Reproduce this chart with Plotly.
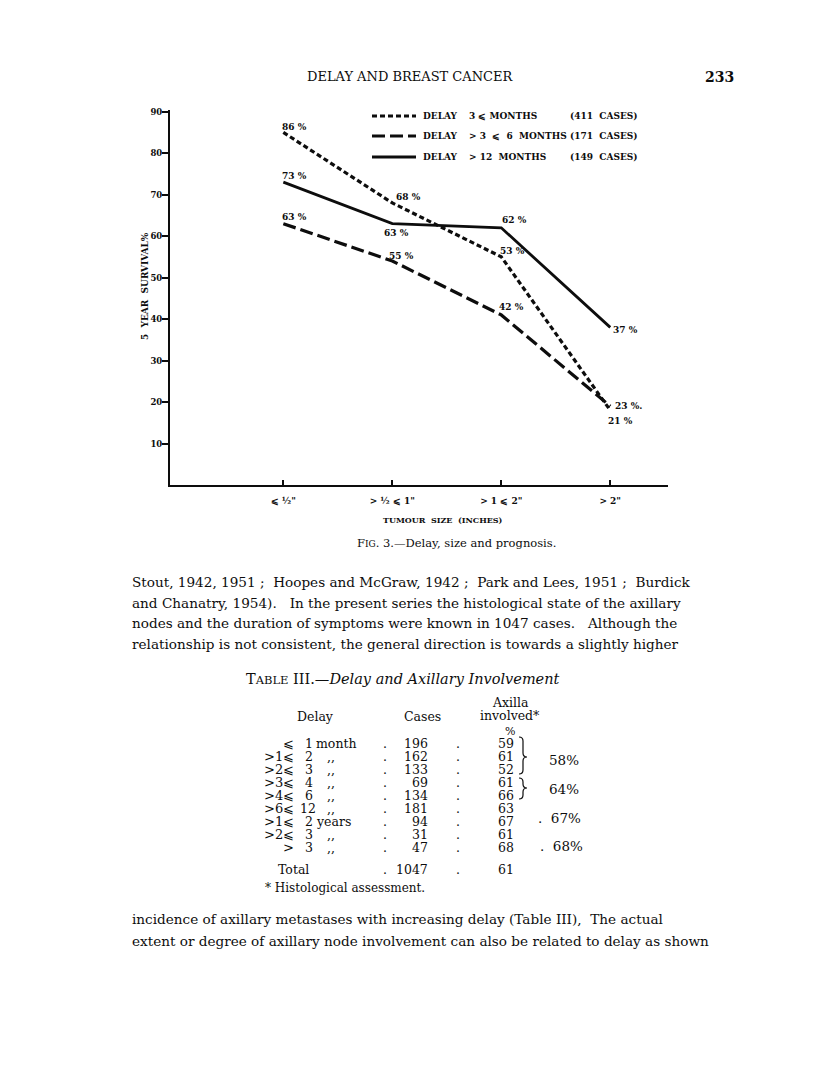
import plotly.graph_objects as go

# ---- chart data -------------------------------------------------------------
size_labels = ["⩽ ½\"", "> ½ ⩽ 1\"", "> 1 ⩽ 2\"", "> 2\""]
y_ticks = [10, 20, 30, 40, 50, 60, 70, 80, 90]

delay_short = [85, 68, 55, 18]          # delay <= 3 months (dotted)
delay_mid = [63, 54, 41, 19]            # delay > 3 <= 6 months (dashed)
delay_long = [73, 63, 62, 38]           # delay > 12 months (solid)

short_text = ["86 %", "68 %", "53 %", "21 %"]
mid_text = ["63 %", "55 %", "42 %", "23 %."]
long_text = ["73 %", "63 %", "62 %", "37 %"]

legend_desc = ["3 ⩽ MONTHS", "> 3  ⩽  6  MONTHS", "> 12  MONTHS"]
legend_cases = ["(411  CASES)", "(171  CASES)", "(149  CASES)"]

# ---- table data -------------------------------------------------------------
delay_prefix = ["⩽", ">1⩽", ">2⩽", ">3⩽", ">4⩽", ">6⩽", ">1⩽", ">2⩽", ">"]
delay_num = ["1", "2", "3", "4", "6", "12", "2", "3", "3"]
delay_unit = ["month", ",,", ",,", ",,", ",,", ",,", "years", ",,", ",,"]
cases = [196, 162, 133, 69, 134, 181, 94, 31, 47]
axilla_pct = [59, 61, 52, 61, 66, 63, 67, 61, 68]
total_cases = 1047
total_pct = 61

body_top = [
    "Stout, 1942, 1951 ;  Hoopes and McGraw, 1942 ;  Park and Lees, 1951 ;  Burdick",
    "and Chanatry, 1954).   In the present series the histological state of the axillary",
    "nodes and the duration of symptoms were known in 1047 cases.   Although the",
    "relationship is not consistent, the general direction is towards a slightly higher",
]
body_bottom = [
    "incidence of axillary metastases with increasing delay (Table III),  The actual",
    "extent or degree of axillary node involvement can also be related to delay as shown",
]

# ---- page geometry (page pixels; the html body adds an 8px margin) ---------
OFF = 8
W, H = 816 - 2 * OFF, 1081 - 2 * OFF
L, R, T, B = 170, 668, 110, 485


def px(x):
    return (x - L) / (R - L)


def py(y):
    return (B - y) / (B - T)


CH = "DejaVu Serif"
INK = "#0d0d0d"
DOT = "5px,3px"
DASH = "13px,5px"

fig = go.Figure()

fig.add_trace(go.Scatter(x=[0, 1, 2, 3], y=delay_short, mode="lines",
                         line=dict(color=INK, width=3.2, dash=DOT)))
fig.add_trace(go.Scatter(x=[0, 1, 2, 3], y=delay_mid, mode="lines",
                         line=dict(color=INK, width=3.2, dash=DASH)))
fig.add_trace(go.Scatter(x=[0, 1, 2, 3], y=delay_long, mode="lines",
                         line=dict(color=INK, width=2.8)))

ann = []

# point labels
shifts_short = [(11, 5), (16, 6), (11, 6), (10, -11)]
shifts_mid = [(11, 7), (9, 5), (10, 8), (18, 0)]
shifts_long = [(11, 6), (4, -9), (13, 8), (15, -3)]
for vals, texts, shifts in [(delay_short, short_text, shifts_short),
                            (delay_mid, mid_text, shifts_mid),
                            (delay_long, long_text, shifts_long)]:
    for i, (v, t, s) in enumerate(zip(vals, texts, shifts)):
        ann.append(dict(x=i, y=v, text="<b>" + t + "</b>", showarrow=False,
                        xshift=s[0], yshift=s[1],
                        font=dict(family=CH, size=9, color=INK)))

# legend (drawn by hand, like the original)
legend_dash = [DOT, DASH, "solid"]
legend_y = [116, 136, 157]
shapes = []
for d, ly, desc, cs in zip(legend_dash, legend_y, legend_desc, legend_cases):
    shapes.append(dict(type="line", xref="paper", yref="paper",
                       x0=px(372), x1=px(416), y0=py(ly), y1=py(ly),
                       line=dict(color=INK, width=3, dash=d)))
    ann.append(dict(xref="paper", yref="paper", x=px(421), y=py(ly), text="<b>DELAY</b>",
                    xanchor="left", showarrow=False, font=dict(family=CH, size=9, color=INK)))
    ann.append(dict(xref="paper", yref="paper", x=px(467), y=py(ly), text="<b>" + desc + "</b>",
                    xanchor="left", showarrow=False, font=dict(family=CH, size=9, color=INK)))
    ann.append(dict(xref="paper", yref="paper", x=px(640), y=py(ly), text="<b>" + cs + "</b>",
                    xanchor="right", showarrow=False, font=dict(family=CH, size=9, color=INK)))

# axis titles and caption
ann.append(dict(xref="paper", yref="paper", x=px(145), y=py(286), text="<b>5  YEAR  SURVIVAL%</b>",
                textangle=-90, showarrow=False, font=dict(family=CH, size=9, color=INK)))
ann.append(dict(xref="paper", yref="paper", x=px(443), y=py(520), text="<b>TUMOUR  SIZE  (INCHES)</b>",
                showarrow=False, font=dict(family=CH, size=8, color=INK)))
ann.append(dict(xref="paper", yref="paper", x=px(456), y=py(543),
                text="F<span style='font-size:9px'>IG</span>. 3.—Delay, size and prognosis.",
                showarrow=False, font=dict(family=CH, size=11.5, color=INK)))

# running header
ann.append(dict(xref="paper", yref="paper", x=px(410), y=py(77), text="DELAY AND BREAST CANCER",
                showarrow=False, font=dict(family=CH, size=13, color=INK)))
ann.append(dict(xref="paper", yref="paper", x=px(736), y=py(77), text="<b>233</b>", xanchor="right",
                showarrow=False, font=dict(family=CH, size=14, color=INK)))

# body text
BODY = 13.6
for i, line in enumerate(body_top):
    ann.append(dict(xref="paper", yref="paper", x=px(130), y=py(582 + 20.7 * i), text=line,
                    xanchor="left", showarrow=False, font=dict(family=CH, size=BODY, color=INK)))
for i, line in enumerate(body_bottom):
    ann.append(dict(xref="paper", yref="paper", x=px(130), y=py(919 + 21.5 * i), text=line,
                    xanchor="left", showarrow=False, font=dict(family=CH, size=BODY, color=INK)))

# table
TF = 12.5
ann.append(dict(xref="paper", yref="paper", x=px(403), y=py(679),
                text="T<span style='font-size:11.5px'>ABLE</span> III.—<i>Delay and Axillary Involvement</i>",
                showarrow=False, font=dict(family=CH, size=14.5, color=INK)))


def cell(x, y, text, anchor="left", size=TF):
    ann.append(dict(xref="paper", yref="paper", x=px(x), y=py(y), text=text, xanchor=anchor,
                    showarrow=False, font=dict(family=CH, size=size, color=INK)))


cell(315, 716, "Delay", "center")
cell(422, 716, "Cases", "center")
cell(510, 702, "Axilla", "center")
cell(510, 715, "involved*", "center")
cell(510, 731, "%", "center", 11)

row_y = [743 + 13.1 * i for i in range(len(cases))]
for ry, pre, num, unit, c, a in zip(row_y, delay_prefix, delay_num, delay_unit, cases, axilla_pct):
    cell(296, ry, pre, "right", 13)
    cell(298 if len(num) > 1 else 303, ry, num)
    if unit == ",,":
        cell(331, ry, unit, "center")
    else:
        cell(314, ry, unit)
    cell(385, ry, ".", "center")
    cell(430, ry, str(c), "right")
    cell(458, ry, ".", "center")
    cell(516, ry, str(a), "right")

cell(276, 869, "Total")
cell(385, 869, ".", "center")
cell(430, 869, str(total_cases), "right")
cell(458, 869, ".", "center")
cell(516, 869, str(total_pct), "right")
cell(263, 888, "* Histological assessment.", size=12)

cell(581, 760, "58%", "right", 13.5)
cell(581, 789, "64%", "right", 13.5)
cell(583, 818, ".  67%", "right", 13.5)
cell(585, 846, ".  68%", "right", 13.5)


def brace(x, top, bot, tip, w=8):
    m = x + w * 0.5
    r = 4
    xs = lambda v: px(v)
    ys = lambda v: py(v)
    path = (f"M {xs(x)},{ys(top)} Q {xs(m)},{ys(top)} {xs(m)},{ys(top + r)} "
            f"L {xs(m)},{ys(tip - r)} Q {xs(m)},{ys(tip)} {xs(x + w)},{ys(tip)} "
            f"Q {xs(m)},{ys(tip)} {xs(m)},{ys(tip + r)} "
            f"L {xs(m)},{ys(bot - r)} Q {xs(m)},{ys(bot)} {xs(x)},{ys(bot)}")
    shapes.append(dict(type="path", xref="paper", yref="paper", path=path,
                       line=dict(color=INK, width=1.2)))


brace(519, 737, 774, 757)
brace(519, 778, 799, 788)

for a in ann:
    a.setdefault("xanchor", "center")
    a.setdefault("yanchor", "middle")

fig.update_layout(
    width=W, height=H,
    margin=dict(l=L - OFF, r=W - (R - OFF), t=T - OFF, b=H - (B - OFF)),
    paper_bgcolor="white", plot_bgcolor="white",
    showlegend=False,
    annotations=ann, shapes=shapes,
    xaxis=dict(range=[-1.04, 3.53], tickvals=[0, 1, 2, 3],
               ticktext=["<b>" + s + "</b>" for s in size_labels],
               showgrid=False, zeroline=False, showline=True, linecolor=INK, linewidth=2,
               ticks="inside", ticklen=5, tickwidth=2, tickcolor=INK, ticklabelstandoff=6,
               tickfont=dict(family=CH, size=9, color=INK)),
    yaxis=dict(range=[0, 90.4], tickvals=y_ticks,
               ticktext=["<b>%d</b>" % v for v in y_ticks],
               showgrid=False, zeroline=False, showline=True, linecolor=INK, linewidth=2,
               ticks="outside", ticklen=6, tickwidth=2, tickcolor=INK, ticklabelstandoff=-2,
               tickfont=dict(family=CH, size=8.5, color=INK)),
)

fig.write_html("out.html")
